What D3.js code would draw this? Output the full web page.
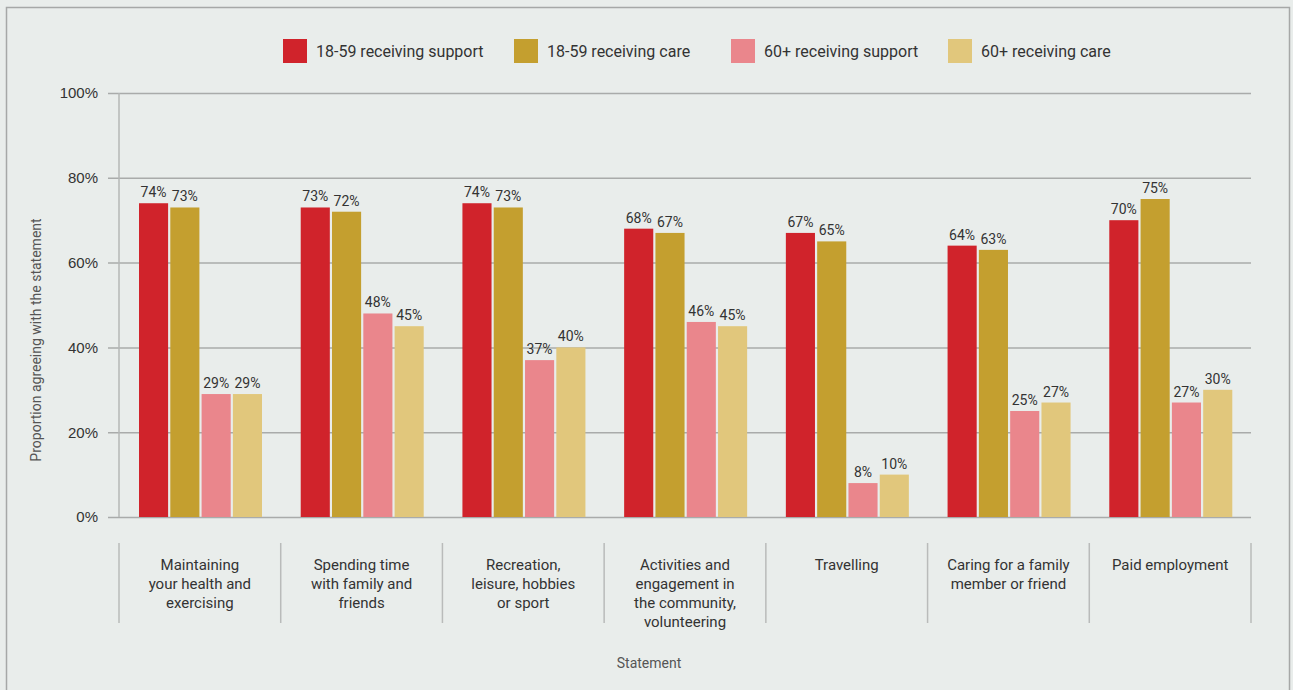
<!DOCTYPE html>
<html>
<head>
<meta charset="utf-8">
<script src="https://cdn.jsdelivr.net/npm/d3@7"></script>
<style>
  html, body { margin: 0; padding: 0; background: #e9edeb; }
  svg { display: block; font-family: Roboto, "Noto Sans", sans-serif; }
</style>
</head>
<body>
<svg id="chart" width="1293" height="690"></svg>
<script>
// Statements (one entry per group; "|" marks a line break in the label)
const categories = [
  "Maintaining|your health and|exercising",
  "Spending time|with family and|friends",
  "Recreation,|leisure, hobbies|or sport",
  "Activities and|engagement in|the community,|volunteering",
  "Travelling",
  "Caring for a family|member or friend",
  "Paid employment"
];

const seriesNames = [
  "18-59 receiving support",
  "18-59 receiving care",
  "60+ receiving support",
  "60+ receiving care"
];

// Percent agreeing, per series, in category order
const support1859 = [74, 73, 74, 68, 67, 64, 70];
const care1859    = [73, 72, 73, 67, 65, 63, 75];
const support60   = [29, 48, 37, 46, 8, 25, 27];
const care60      = [29, 45, 40, 45, 10, 27, 30];

const yTicks = [0, 20, 40, 60, 80, 100];

const colors = ["#d0232b", "#c49f2f", "#ea868c", "#e1c77c"];

const seriesValues = [support1859, care1859, support60, care60];

const svg = d3.select("#chart");

// Outer frame
svg.append("rect")
  .attr("x", 6.5).attr("y", 7.5)
  .attr("width", 1283).attr("height", 700)
  .attr("fill", "#e9edeb")
  .attr("stroke", "#a6a8a7").attr("stroke-width", 1.5);

const plotLeft = 119, plotRight = 1251, plotTop = 93, plotBottom = 517;

const y = d3.scaleLinear().domain([0, 100]).range([plotBottom, plotTop]);
const x0 = d3.scaleBand().domain(categories).range([plotLeft, plotRight]).padding(0);
const x1 = d3.scaleBand().domain(seriesNames).range([20, 143]).paddingInner(0.07).paddingOuter(0);
const color = d3.scaleOrdinal().domain(seriesNames).range(colors);

// Gridlines and y tick labels
const yAxis = d3.axisLeft(y)
  .tickValues(yTicks)
  .tickSize(-(plotRight - 108))
  .tickPadding(10)
  .tickFormat(d => d + "%");

const yg = svg.append("g")
  .attr("transform", `translate(108,0)`)
  .call(yAxis);
yg.select(".domain").remove();
yg.selectAll(".tick line")
  .attr("stroke", "#a9abaa").attr("stroke-width", 1.5);
yg.selectAll(".tick text")
  .attr("fill", "#333").attr("font-size", 15);

// Vertical y axis line
svg.append("line")
  .attr("x1", plotLeft).attr("x2", plotLeft)
  .attr("y1", plotTop).attr("y2", plotBottom)
  .attr("stroke", "#b5b7b6").attr("stroke-width", 1.5);

// Bars
const rows = categories.map((c, i) => ({
  category: c,
  values: seriesNames.map((s, j) => ({ series: s, value: seriesValues[j][i] }))
}));

const groups = svg.append("g").selectAll("g")
  .data(rows).join("g")
  .attr("transform", d => `translate(${x0(d.category)},0)`);

groups.selectAll("rect")
  .data(d => d.values).join("rect")
  .attr("x", d => x1(d.series))
  .attr("y", d => y(d.value))
  .attr("width", x1.bandwidth())
  .attr("height", d => y(0) - y(d.value))
  .attr("fill", d => color(d.series));

groups.selectAll("text.val")
  .data(d => d.values).join("text")
  .attr("class", "val")
  .attr("x", d => x1(d.series) + x1.bandwidth() / 2)
  .attr("y", d => y(d.value) - 6)
  .attr("text-anchor", "middle")
  .attr("fill", "#333")
  .attr("font-size", 14)
  .text(d => d.value + "%");

// Category separators below the plot
const seps = x0.domain().map(c => x0(c)).concat([plotRight]);
svg.append("g").selectAll("line")
  .data(seps).join("line")
  .attr("x1", d => d).attr("x2", d => d)
  .attr("y1", 543).attr("y2", 623)
  .attr("stroke", "#b9bbba").attr("stroke-width", 1.5);

// Category labels
const labels = svg.append("g").selectAll("text")
  .data(categories).join("text")
  .attr("x", d => x0(d) + x0.bandwidth() / 2)
  .attr("y", 570)
  .attr("text-anchor", "middle")
  .attr("fill", "#333")
  .attr("font-size", 15);
labels.each(function(d) {
  const t = d3.select(this);
  d.split("|").forEach((line, i) => {
    t.append("tspan")
      .attr("x", x0(d) + x0.bandwidth() / 2)
      .attr("dy", i === 0 ? 0 : 19)
      .text(line);
  });
});

// Axis titles
svg.append("text")
  .attr("x", 649).attr("y", 668)
  .attr("text-anchor", "middle")
  .attr("fill", "#555").attr("font-size", 14)
  .text("Statement");

svg.append("text")
  .attr("transform", "translate(41,340) rotate(-90)")
  .attr("text-anchor", "middle")
  .attr("fill", "#555").attr("font-size", 14)
  .text("Proportion agreeing with the statement");

// Legend
const legendX = [283, 514, 731, 948];
const legend = svg.append("g").selectAll("g")
  .data(seriesNames).join("g")
  .attr("transform", (d, i) => `translate(${legendX[i]},39)`);
legend.append("rect")
  .attr("width", 24).attr("height", 24)
  .attr("fill", d => color(d));
legend.append("text")
  .attr("x", 33).attr("y", 18)
  .attr("fill", "#333").attr("font-size", 16)
  .text(d => d);
</script>
</body>
</html>
